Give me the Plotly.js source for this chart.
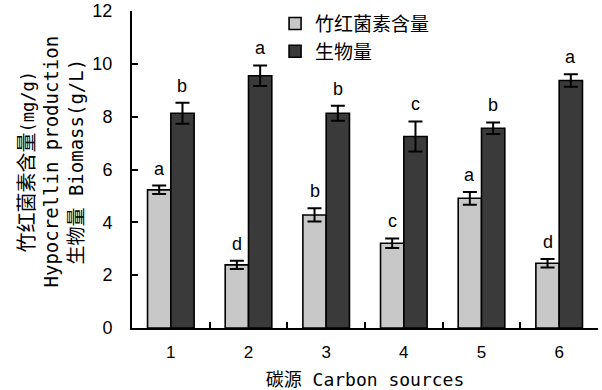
<!DOCTYPE html>
<html><head><meta charset="utf-8">
<script src="https://cdn.plot.ly/plotly-3.0.1.min.js"></script>
<style>body{margin:0;background:#fff}#c{width:602px;height:390px}</style>
</head><body><div id="c"></div>
<script>
const categories = ['1','2','3','4','5','6'];
const hypocrellin = [5.23, 2.39, 4.28, 3.21, 4.91, 2.45];
const hypocrellinErr = [0.16, 0.16, 0.25, 0.18, 0.24, 0.16];
const biomass = [8.13, 9.55, 8.13, 7.25, 7.56, 9.37];
const biomassErr = [0.40, 0.39, 0.28, 0.57, 0.22, 0.24];
const hypocrellinLetters = ['a','d','b','c','a','d'];
const biomassLetters = ['b','a','b','c','b','a'];
const seriesNames = ['竹红菌素含量', '生物量'];
const yTicks = [0, 2, 4, 6, 8, 10, 12];

const mono = '"DejaVu Sans Mono", "Noto Sans CJK SC", monospace';
const sans = '"Liberation Sans", Arial, "Noto Sans CJK SC", sans-serif';
const cjk = (t, s) => '<span style="font-family:\'Noto Sans CJK SC\';font-size:' + s + 'px">' + t + '</span>';

const traces = [
  {type:'bar', name:seriesNames[0], x:categories, y:hypocrellin,
   marker:{color:'#c8c8c8', line:{color:'#000', width:1.6}},
   error_y:{type:'data', array:hypocrellinErr, visible:true, color:'#000', thickness:2, width:7}},
  {type:'bar', name:seriesNames[1], x:categories, y:biomass,
   marker:{color:'#3a3a3a', line:{color:'#000', width:1.6}},
   error_y:{type:'data', array:biomassErr, visible:true, color:'#000', thickness:2, width:7}}
];

const annotations = [];
categories.forEach((c, i) => {
  annotations.push({x:i, y:hypocrellin[i]+hypocrellinErr[i], text:hypocrellinLetters[i], showarrow:false,
    xshift:-11.6, yshift:5, yanchor:'bottom', font:{family:sans, size:18, color:'#000'}});
  annotations.push({x:i, y:biomass[i]+biomassErr[i], text:biomassLetters[i], showarrow:false,
    xshift:11.6, yshift:5, yanchor:'bottom', font:{family:sans, size:18, color:'#000'}});
});
annotations.push({xref:'paper', yref:'paper', x:0, y:0.5, xanchor:'center', yanchor:'middle', xshift:-83, yshift:8, textangle:-90, showarrow:false,
  text: cjk('竹红菌素含量', 20) + '<span style="font-size:17px">(mg/g)</span><br>Hypocrellin production<br>' + cjk('生物量', 19) + ' Biomass(g/L)',
  font:{family:mono, size:19, color:'#000'}});

const layout = {
  width:602, height:390,
  margin:{l:132, r:4, t:11, b:62},
  paper_bgcolor:'#fff', plot_bgcolor:'#fff',
  barmode:'group', bargap:0.4, bargroupgap:0,
  showlegend:true,
  legend:{x:0.307, y:1.02, xanchor:'left', yanchor:'top', bgcolor:'rgba(0,0,0,0)',
    font:{family:'"Noto Sans CJK SC", sans-serif', size:19, color:'#000'}, tracegroupgap:0},
  xaxis:{type:'category', range:[-0.5,5.5], showline:true, linecolor:'#000', linewidth:2, ticks:'inside', tickson:'boundaries',
    ticklen:6, tickwidth:2, tickcolor:'#000', showgrid:false, zeroline:false, ticklabelstandoff:8,
    tickfont:{family:sans, size:17, color:'#000'},
    title:{text:'碳源 Carbon sources', font:{family:mono, size:18, color:'#000'}, standoff:14}},
  yaxis:{range:[0,12], tickvals:yTicks, showline:true, linecolor:'#000', linewidth:2, ticks:'inside',
    ticklen:6, tickwidth:2, tickcolor:'#000', showgrid:false, zeroline:false, ticklabelstandoff:14,
    tickfont:{family:sans, size:18, color:'#000'}},
  annotations:annotations
};
Plotly.newPlot('c', traces, layout, {staticPlot:true});
</script></body></html>
